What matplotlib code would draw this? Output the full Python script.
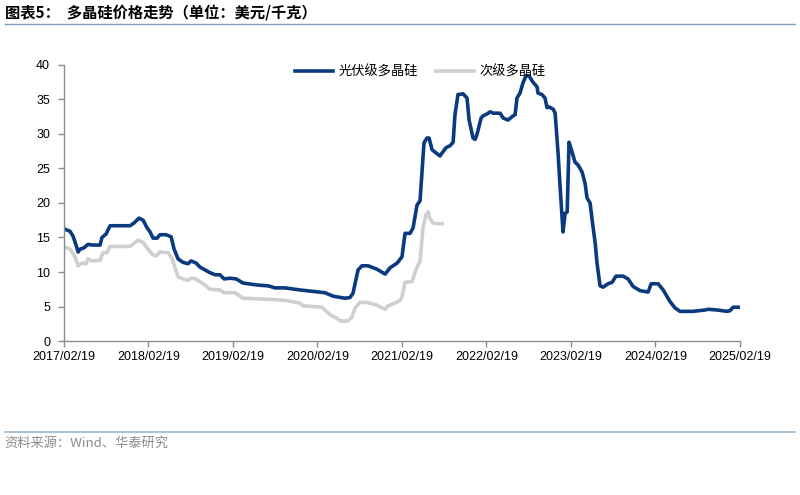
import matplotlib

matplotlib.use("Agg")
import matplotlib.pyplot as plt
import matplotlib.dates as mdates
import pandas as pd

plt.rcParams["font.family"] = ["Liberation Sans", "Noto Sans CJK SC", "DejaVu Sans"]

# 光伏级多晶硅 (USD/kg)
pv_dates = [
    "2017-02-23", "2017-03-17", "2017-03-30", "2017-04-12", "2017-04-21", "2017-04-29",
    "2017-05-16", "2017-06-03", "2017-06-24", "2017-07-25", "2017-08-02", "2017-08-20",
    "2017-09-06", "2017-12-01", "2017-12-19", "2018-01-09", "2018-01-27", "2018-02-13",
    "2018-02-26", "2018-03-11", "2018-03-28", "2018-04-10", "2018-05-06", "2018-05-28",
    "2018-06-10", "2018-06-27", "2018-07-18", "2018-08-09", "2018-08-22", "2018-09-13",
    "2018-09-30", "2018-10-22", "2018-11-12", "2018-12-04", "2018-12-25", "2019-01-12",
    "2019-02-07", "2019-03-05", "2019-04-04", "2019-06-08", "2019-07-21", "2019-08-20",
    "2019-10-02", "2019-12-06", "2020-03-23", "2020-04-27", "2020-06-18", "2020-07-09",
    "2020-07-22", "2020-08-13", "2020-08-30", "2020-09-25", "2020-11-03", "2020-12-08",
    "2020-12-29", "2021-01-29", "2021-02-19", "2021-03-04", "2021-03-26", "2021-04-08",
    "2021-04-25", "2021-05-08", "2021-05-25", "2021-06-07", "2021-06-16", "2021-06-29",
    "2021-08-02", "2021-08-28", "2021-09-15", "2021-09-28", "2021-10-06", "2021-10-19",
    "2021-11-10", "2021-11-27", "2021-12-06", "2021-12-23", "2022-01-01", "2022-01-09",
    "2022-01-27", "2022-02-04", "2022-02-22", "2022-03-07", "2022-03-20", "2022-04-19",
    "2022-05-02", "2022-05-23", "2022-06-10", "2022-06-23", "2022-07-01", "2022-07-14",
    "2022-07-27", "2022-08-09", "2022-08-22", "2022-09-08", "2022-09-26", "2022-09-30",
    "2022-10-17", "2022-10-30", "2022-11-08", "2022-11-17", "2022-12-04", "2022-12-13",
    "2022-12-26", "2023-01-04", "2023-01-16", "2023-01-25", "2023-02-03", "2023-02-11",
    "2023-02-24", "2023-03-09", "2023-03-22", "2023-04-08", "2023-04-21", "2023-04-30",
    "2023-05-13", "2023-05-22", "2023-06-04", "2023-06-12", "2023-06-25", "2023-07-08",
    "2023-07-30", "2023-08-16", "2023-09-02", "2023-10-03", "2023-10-24", "2023-11-15",
    "2023-12-15", "2024-01-19", "2024-02-01", "2024-03-02", "2024-03-24", "2024-04-23",
    "2024-05-14", "2024-06-05", "2024-07-31", "2024-09-21", "2024-10-04", "2024-11-12",
    "2024-12-25", "2025-01-07", "2025-01-20", "2025-02-11",
]
pv_price = [
    16.2, 15.9, 15.2, 13.9, 12.9, 13.3,
    13.5, 14.0, 13.9, 13.9, 15.0, 15.5,
    16.7, 16.7, 17.1, 17.8, 17.5, 16.4,
    15.8, 14.9, 14.9, 15.4, 15.4, 15.1,
    13.3, 11.9, 11.4, 11.2, 11.6, 11.3,
    10.7, 10.3, 9.9, 9.6, 9.6, 9.0,
    9.1, 9.0, 8.4, 8.1, 8.0, 7.7,
    7.7, 7.4, 7.0, 6.5, 6.2, 6.3,
    6.9, 10.3, 10.9, 10.9, 10.4, 9.7,
    10.6, 11.3, 12.2, 15.6, 15.6, 16.4,
    19.7, 20.3, 28.7, 29.4, 29.4, 27.7,
    26.8, 28.0, 28.3, 28.8, 32.8, 35.7,
    35.8, 35.2, 32.0, 29.4, 29.2, 29.9,
    32.3, 32.6, 32.9, 33.2, 33.0, 33.0,
    32.3, 32.0, 32.5, 32.8, 35.2, 35.9,
    37.4, 38.4, 38.4, 37.5, 36.8, 35.9,
    35.7, 35.2, 33.8, 33.9, 33.6, 33.0,
    27.0, 22.0, 15.8, 18.5, 18.7, 28.8,
    27.4, 25.9, 25.5, 24.5, 22.9, 20.7,
    20.0, 17.5, 14.2, 11.3, 8.0, 7.8,
    8.3, 8.5, 9.4, 9.4, 9.0, 7.9,
    7.3, 7.1, 8.3, 8.3, 7.4, 5.7,
    4.8, 4.3, 4.3, 4.5, 4.6, 4.5,
    4.3, 4.4, 4.9, 4.9,
]

# 次级多晶硅 (USD/kg)
sub_dates = [
    "2017-02-23", "2017-03-17", "2017-04-08", "2017-04-21", "2017-05-08", "2017-05-25",
    "2017-06-03", "2017-06-20", "2017-07-25", "2017-08-07", "2017-08-24", "2017-09-06",
    "2017-12-01", "2018-01-05", "2018-01-27", "2018-02-13", "2018-03-06", "2018-03-24",
    "2018-04-10", "2018-05-15", "2018-06-01", "2018-06-14", "2018-06-27", "2018-07-18",
    "2018-08-09", "2018-08-22", "2018-09-13", "2018-09-30", "2018-10-22", "2018-11-12",
    "2018-12-25", "2019-01-12", "2019-02-28", "2019-03-22", "2019-04-04", "2019-06-16",
    "2019-08-20", "2019-10-02", "2019-12-06", "2019-12-19", "2020-03-10", "2020-04-14",
    "2020-05-14", "2020-05-27", "2020-07-01", "2020-07-18", "2020-07-31", "2020-08-22",
    "2020-09-21", "2020-11-03", "2020-12-08", "2020-12-21", "2021-01-20", "2021-02-11",
    "2021-02-19", "2021-03-04", "2021-04-03", "2021-04-16", "2021-04-29", "2021-05-08",
    "2021-05-21", "2021-06-03", "2021-06-12", "2021-06-20", "2021-07-03", "2021-07-20",
    "2021-08-11",
]
sub_price = [
    13.6, 13.3, 12.2, 10.9, 11.3, 11.2,
    11.9, 11.6, 11.7, 12.8, 12.8, 13.7,
    13.7, 14.6, 14.3, 13.5, 12.6, 12.3,
    12.9, 12.8, 12.0, 10.6, 9.3, 9.0,
    8.8, 9.1, 9.0, 8.6, 8.1, 7.5,
    7.4, 7.0, 7.0, 6.5, 6.2, 6.1,
    6.0, 5.9, 5.5, 5.1, 4.9, 3.8,
    3.3, 2.9, 2.9, 3.5, 4.8, 5.6,
    5.6, 5.2, 4.6, 5.1, 5.5, 5.9,
    6.4, 8.5, 8.6, 9.9, 11.0, 11.5,
    16.5, 18.3, 18.7, 17.7, 17.1, 17.0,
    17.0,
]

tick_dates = [f"{y}-02-19" for y in range(2017, 2026)]

pv = pd.Series(pv_price, index=pd.to_datetime(pv_dates))
sub = pd.Series(sub_price, index=pd.to_datetime(sub_dates))
ticks = pd.to_datetime(tick_dates)

fig = plt.figure(figsize=(8, 4.95), dpi=100)
ax = fig.add_axes([0.08, 0.311, 0.845, 0.558])

ax.plot(pv.index, pv.values, color="#0b3a7e", lw=2.6, label="光伏级多晶硅",
        solid_joinstyle="round")
ax.plot(sub.index, sub.values, color="#cfcfcf", lw=2.6, label="次级多晶硅",
        solid_joinstyle="round")

ax.set_xlim(ticks[0], ticks[-1])
ax.set_ylim(0, 40)
ax.set_yticks(range(0, 41, 5))
ax.set_xticks(ticks)
ax.xaxis.set_major_formatter(mdates.DateFormatter("%Y/%m/%d"))

for s in ["top", "right"]:
    ax.spines[s].set_visible(False)
for s in ["left", "bottom"]:
    ax.spines[s].set_color("#8c8c8c")
    ax.spines[s].set_linewidth(1.0)
ax.tick_params(axis="both", colors="#8c8c8c", length=4, width=1.0,
               labelcolor="black", labelsize=9)
ax.tick_params(axis="y", pad=6)
ax.tick_params(axis="x", pad=3)

leg = ax.legend(loc="center", bbox_to_anchor=(0.527, 0.975), ncol=2, frameon=False,
                prop={"family": "Noto Sans CJK SC", "size": 9.5},
                handlelength=2.9, columnspacing=1.4, handletextpad=0.4)

fig.text(0.006, 0.972, "图表5：  多晶硅价格走势（单位：美元/千克）", fontsize=11,
         fontweight="bold", family=["Noto Sans CJK SC", "DejaVu Sans"], va="center")
fig.add_artist(plt.Line2D([0.006, 0.994], [0.951, 0.951], color="#7f9bbf", lw=1.0))
fig.add_artist(plt.Line2D([0.006, 0.994], [0.127, 0.127], color="#9db5d0", lw=1.2))
fig.text(0.006, 0.105, "资料来源：Wind、华泰研究", fontsize=9.5, color="#8c8c8c",
         family=["Noto Sans CJK SC", "DejaVu Sans"], va="center")

fig.savefig("out.png", dpi=100)
